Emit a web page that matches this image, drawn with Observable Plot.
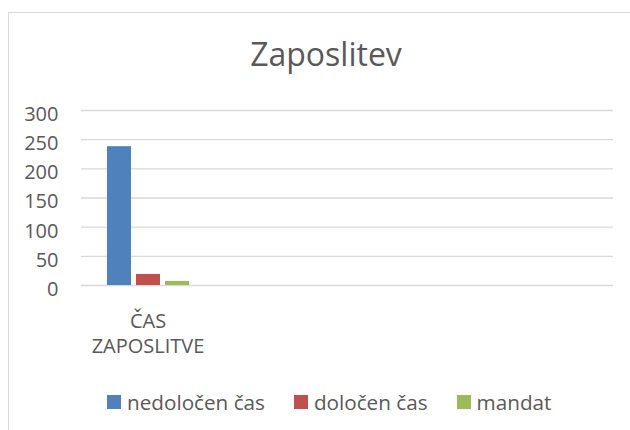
<!DOCTYPE html>
<html>
<head>
<meta charset="utf-8">
<script src="https://cdn.jsdelivr.net/npm/d3@7"></script>
<script src="https://cdn.jsdelivr.net/npm/@observablehq/plot@0.6"></script>
<style>
  html, body { margin: 0; padding: 0; background: #fff; }
  body { width: 630px; height: 430px; overflow: hidden; position: relative; font-family: "Open Sans", sans-serif; color: #595959; }
  #frame { position: absolute; left: 8px; top: 12px; width: 700px; height: 500px; border-left: 1.5px solid #d9d9d9; border-top: 1.5px solid #d9d9d9; }
  #title { position: absolute; left: 0; top: 34px; width: 652px; text-align: center; font-size: 32px; line-height: 40px; color: #595959; }
  #chart { position: absolute; left: 0; top: 90px; }
  #legend { position: absolute; left: 107px; top: 390px; display: flex; gap: 29px; font-size: 20.7px; line-height: 24px; color: #595959; }
  .item { display: flex; align-items: center; }
  .sw { width: 14px; height: 14px; margin-right: 6px; }
</style>
</head>
<body>
<div id="frame"></div>
<div id="title">Zaposlitev</div>
<div id="chart"></div>
<div id="legend"></div>
<script>
const categories = ["ČAS ZAPOSLITVE", "k2", "k3", "k4"];
const categoryLabels = ["ČAS\nZAPOSLITVE", "", "", ""];
const series = ["nedoločen čas", "določen čas", "mandat"];
const values = [238, 19, 7];
const colors = ["#4f81bd", "#c0504d", "#9bbb59"];
const yTicks = [0, 50, 100, 150, 200, 250, 300];

const rows = series.map((s, i) => ({category: categories[0], series: s, value: values[i]}));
const gridRows = categories.flatMap(c => yTicks.map(t => ({category: c, tick: t})));

const chart = Plot.plot({
  width: 630,
  height: 280,
  marginLeft: 81,
  marginRight: 17,
  marginTop: 20,
  marginBottom: 85,
  style: {fontFamily: "Open Sans", fontSize: "20px", color: "#595959", background: "transparent", overflow: "visible"},
  fx: {domain: categories, padding: 0, label: null},
  x: {domain: series, paddingInner: 0.186, paddingOuter: 0.847, axis: null},
  y: {domain: [0, 300], label: null, axis: null},
  color: {domain: series, range: colors},
  marks: [
    Plot.ruleY(gridRows, {fx: "category", y: "tick", stroke: "#d9d9d9", strokeOpacity: 1, strokeWidth: 1.3}),
    Plot.barY(rows, {fx: "category", x: "series", y: "value", fill: "series"}),
    Plot.axisY(yTicks, {tickSize: 0, tickPadding: 23, dy: 4, fontSize: 20, fill: "#595959", label: null}),
    Plot.axisFx({anchor: "bottom", tickSize: 0, tickPadding: 25, lineHeight: 1.25, fontSize: 20, fill: "#595959", label: null,
      tickFormat: d => categoryLabels[categories.indexOf(d)]})
  ]
});
document.getElementById("chart").appendChild(chart);

const legend = document.getElementById("legend");
series.forEach((s, i) => {
  const item = document.createElement("div");
  item.className = "item";
  const sw = document.createElement("span");
  sw.className = "sw";
  sw.style.background = colors[i];
  const label = document.createElement("span");
  label.textContent = s;
  item.appendChild(sw);
  item.appendChild(label);
  legend.appendChild(item);
});
</script>
</body>
</html>
